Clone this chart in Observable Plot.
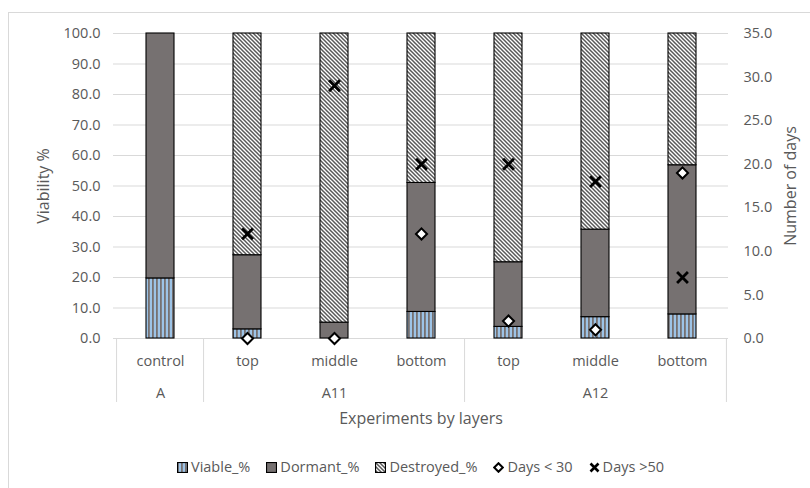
<!DOCTYPE html>
<html><head><meta charset="utf-8">
<script src="https://cdn.jsdelivr.net/npm/d3@7"></script>
<script src="https://cdn.jsdelivr.net/npm/@observablehq/plot@0.6"></script>
<style>
html,body{margin:0;padding:0;background:#fff;overflow:hidden;}
body{width:810px;height:488px;position:relative;font-family:'Open Sans',sans-serif;color:#595959;}
#frame{position:absolute;left:8px;top:12px;width:820px;height:490px;border:1px solid #d9d9d9;box-sizing:border-box;}
#chart{position:absolute;left:0;top:0;}
#legend{position:absolute;left:0;top:457px;width:841px;display:flex;justify-content:center;align-items:center;font-size:14.5px;line-height:20px;}
.item{display:flex;align-items:center;margin:0 8px;}
.item svg{margin-right:3px;}
</style></head><body>
<svg width="0" height="0" style="position:absolute">
<defs>
<pattern id="viable" patternUnits="userSpaceOnUse" width="4" height="4">
<rect width="4" height="4" fill="#9dc3e6"/><rect x="0" width="1.8" height="4" fill="#767171"/>
</pattern>
<pattern id="destroyed" patternUnits="userSpaceOnUse" width="4" height="4">
<rect width="4" height="4" fill="#fff"/><path d="M-1,-1L5,5M-1,3L1,5M3,-1L5,1" stroke="#595959" stroke-width="1.5"/>
</pattern>
</defs></svg>
<div id="frame"></div>
<div id="chart"></div>
<div id="legend"></div>
<script>
// ---- data ----
const groups = ["A", "A11", "A11", "A11", "A12", "A12", "A12"];
const layers = ["control", "top", "middle", "bottom", "top", "middle", "bottom"];
const viable = [19.7, 3.0, 0.0, 8.7, 3.8, 7.0, 7.9];
const dormant = [80.3, 24.3, 5.2, 42.3, 21.2, 28.7, 48.9];
const destroyed = [0.0, 72.7, 94.8, 49.0, 75.0, 64.3, 43.2];
const daysLt30 = [null, 0, 0, 12, 2, 1, 19];
const daysGt50 = [null, 12, 29, 20, 20, 18, 7];
const yTicks = [0, 10, 20, 30, 40, 50, 60, 70, 80, 90, 100];
const dayTicks = [0, 5, 10, 15, 20, 25, 30, 35];
const legendLabels = ["Viable_%", "Dormant_%", "Destroyed_%", "Days < 30", "Days >50"];

const daysMax = dayTicks[dayTicks.length - 1];
const dayToPct = d => d * 100 / daysMax;
const keys = groups.map((g, i) => g + "|" + layers[i]);
const rows = keys.map((k, i) => ({
  key: k, group: groups[i], layer: layers[i],
  v1: viable[i], d1: viable[i] + dormant[i], t1: viable[i] + dormant[i] + destroyed[i],
  lt: daysLt30[i], gt: daysGt50[i]
}));
const uniqueGroups = [...new Set(groups)];
const groupRows = uniqueGroups.map(g => {
  const idx = groups.map((x, i) => x === g ? i : -1).filter(i => i >= 0);
  return {group: g, key: keys[idx[Math.floor(idx.length / 2)]], first: keys[idx[0]], last: keys[idx[idx.length - 1]]};
});

const W = 810, H = 440, mL = 113, mR = 82, mT = 33, mB = 102;
const step = (W - mL - mR) / keys.length;
const fs = 14.5;
const barStyle = {stroke: "#000", strokeWidth: 1.1};

const chart = Plot.plot({
  width: W, height: H,
  marginLeft: mL, marginRight: mR, marginTop: mT, marginBottom: mB,
  style: {fontFamily: "'Open Sans', sans-serif", fontSize: fs + "px", color: "#595959", background: "transparent", overflow: "visible"},
  x: {type: "band", domain: keys, paddingInner: 0.68, paddingOuter: 0.34, axis: null, label: null},
  y: {domain: [0, 100], axis: null, label: null},
  marks: [
    Plot.gridY(yTicks, {stroke: "#d9d9d9", strokeOpacity: 1, strokeWidth: 1}),
    Plot.axisY(yTicks, {anchor: "left", tickSize: 0, tickPadding: 13, tickFormat: d3.format(".1f"), fontSize: fs, label: null}),
    Plot.axisY(dayTicks.map(dayToPct), {anchor: "right", tickSize: 0, tickPadding: 15, tickFormat: d => (d * daysMax / 100).toFixed(1), fontSize: fs, label: null}),
    Plot.ruleX(groupRows, {x: "first", y1: 0, y2: 0, insetBottom: -64, dx: -step / 2, stroke: "#d9d9d9", strokeWidth: 1}),
    Plot.ruleX(groupRows.slice(-1), {x: "last", y1: 0, y2: 0, insetBottom: -64, dx: step / 2, stroke: "#d9d9d9", strokeWidth: 1}),
    Plot.barY(rows.filter(r => r.v1 > 0), {x: "key", y1: 0, y2: "v1", fill: "url(#viable)", ...barStyle}),
    Plot.barY(rows.filter(r => r.d1 > r.v1), {x: "key", y1: "v1", y2: "d1", fill: "#767171", ...barStyle}),
    Plot.barY(rows.filter(r => r.t1 > r.d1), {x: "key", y1: "d1", y2: "t1", fill: "url(#destroyed)", ...barStyle}),
    Plot.dot(rows.filter(r => r.lt != null), {x: "key", y: r => dayToPct(r.lt), symbol: "diamond2", r: 5, stroke: "#000", strokeWidth: 2, fill: "#fff"}),
    Plot.dot(rows.filter(r => r.gt != null), {x: "key", y: r => dayToPct(r.gt), symbol: "times", r: 5, stroke: "#000", strokeWidth: 2.8, fill: "none"}),
    Plot.text(rows, {x: "key", y: 0, dy: 23, text: "layer", fontSize: fs, fill: "#595959"}),
    Plot.text(groupRows, {x: "key", y: 0, dy: 55, text: "group", fontSize: fs, fill: "#595959"}),
    Plot.text(["Experiments by layers"], {frameAnchor: "bottom", lineAnchor: "middle", textAnchor: "middle", dy: 80, text: d => d, fontSize: 16, fill: "#595959"}),
    Plot.text(["Viability %"], {frameAnchor: "left", textAnchor: "middle", lineAnchor: "middle", dx: -70, rotate: -90, text: d => d, fontSize: 16, fill: "#595959"}),
    Plot.text(["Number of days"], {frameAnchor: "right", textAnchor: "middle", lineAnchor: "middle", dx: 62, rotate: -90, text: d => d, fontSize: 16, fill: "#595959"})
  ]
});
document.getElementById("chart").appendChild(chart);

// legend
const swatches = [
  `<rect x="0.5" y="0.5" width="10" height="10" fill="url(#viable)" stroke="#000" stroke-width="1.2"/>`,
  `<rect x="0.5" y="0.5" width="10" height="10" fill="#767171" stroke="#000" stroke-width="1.2"/>`,
  `<rect x="0.5" y="0.5" width="10" height="10" fill="url(#destroyed)" stroke="#000" stroke-width="1.2"/>`,
  `<path d="M5.5,1.2L9.8,5.5L5.5,9.8L1.2,5.5Z" fill="#fff" stroke="#000" stroke-width="2"/>`,
  `<path d="M1.5,1.5L9.5,9.5M9.5,1.5L1.5,9.5" stroke="#000" stroke-width="2.6"/>`
];
const legend = document.getElementById("legend");
legendLabels.forEach((lab, i) => {
  const it = document.createElement("div");
  it.className = "item";
  it.innerHTML = `<svg width="11" height="11" viewBox="0 0 11 11">${swatches[i]}</svg><span>${lab.replace("<", "&lt;").replace(">", "&gt;")}</span>`;
  legend.appendChild(it);
});
</script>
</body></html>
